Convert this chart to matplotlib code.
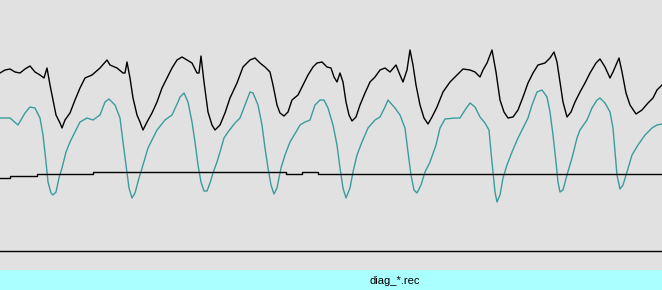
import numpy as np
import matplotlib.pyplot as plt

# channel 1 (black trace): sample index, level
ch1_t = [0, 5, 10, 15, 20, 25, 30, 35, 40, 44, 47, 50, 53, 56, 60, 62, 65, 70, 75, 80,
         85, 92, 100, 107, 110, 117, 123, 125, 127, 130, 133, 137, 140, 143, 147, 152,
         157, 162, 167, 172, 177, 182, 187, 192, 197, 199, 201, 204, 208, 212, 215, 220,
         225, 230, 237, 243, 250, 255, 260, 265, 270, 273, 277, 280, 284, 288, 292, 298,
         303, 308, 313, 317, 322, 327, 331, 334, 337, 340, 343, 346, 349, 352, 356, 360,
         365, 370, 375, 380, 385, 390, 396, 400, 403, 407, 410, 413, 416, 420, 424, 428,
         432, 437, 443, 450, 457, 463, 470, 475, 480, 483, 487, 492, 496, 500, 504, 508,
         513, 518, 523, 528, 533, 538, 545, 550, 554, 557, 560, 563, 567, 571, 575, 580,
         585, 590, 596, 600, 605, 610, 613, 619, 622, 626, 630, 636, 642, 648, 653, 657,
         662]
ch1_v = [73, 70, 69, 72, 73, 69, 66, 72, 75, 78, 68, 85, 100, 115, 123, 128, 120, 113, 100, 88,
         78, 75, 68, 60, 65, 68, 73, 73, 62, 78, 98, 115, 122, 130, 122, 113,
         102, 88, 78, 68, 60, 57, 60, 63, 73, 73, 56, 82, 112, 125, 130, 125,
         113, 98, 83, 67, 60, 58, 63, 67, 72, 85, 105, 113, 116, 112, 100, 95,
         85, 75, 67, 63, 62, 67, 68, 77, 82, 73, 82, 102, 115, 121, 117, 105,
         93, 82, 77, 70, 68, 72, 65, 75, 82, 70, 50, 65, 85, 105, 118, 124,
         117, 107, 92, 82, 75, 69, 70, 72, 77, 70, 63, 50, 72, 100, 112, 118,
         117, 110, 97, 83, 73, 65, 63, 58, 52, 62, 82, 102, 117, 112, 102, 92,
         83, 73, 63, 59, 67, 78, 72, 58, 72, 93, 105, 114, 110, 103, 98, 90,
         85]

# channel 2 (teal trace)
ch2_t = [0, 10, 18, 25, 30, 35, 40, 43, 46, 48, 51, 53, 56, 59, 62, 66, 70, 75, 80, 87,
         93, 100, 105, 109, 115, 120, 123, 126, 129, 132, 135, 139, 143, 148, 157, 165,
         172, 178, 180, 184, 188, 192, 195, 198, 201, 204, 207, 210, 213, 217, 220, 224,
         228, 235, 240, 245, 250, 253, 258, 262, 265, 268, 271, 274, 277, 281, 285, 290,
         296, 300, 305, 310, 315, 320, 324, 328, 333, 337, 340, 343, 346, 350, 353, 357,
         362, 368, 375, 380, 385, 388, 395, 400, 405, 408, 411, 414, 417, 421, 425, 430,
         436, 440, 445, 455, 460, 465, 470, 475, 480, 485, 489, 491, 493, 495, 497, 500,
         503, 507, 512, 518, 523, 528, 532, 537, 542, 547, 550, 553, 556, 558, 560, 563,
         567, 572, 577, 580, 587, 592, 597, 600, 605, 610, 613, 615, 617, 620, 623, 627,
         632, 638, 645, 652, 657, 662]
ch2_v = [118, 118, 125, 113, 107, 108, 118, 135, 162, 182, 193, 195, 192, 178, 168, 152, 142, 132, 122, 118,
         120, 115, 102, 99, 105, 118, 142, 165, 188, 198, 193, 178, 165, 148, 130, 120,
         115, 102, 97, 93, 102, 122, 142, 165, 182, 191, 191, 183, 173, 162, 152, 138,
         132, 123, 118, 105, 92, 93, 105, 125, 148, 168, 185, 194, 188, 168, 155, 142,
         132, 125, 122, 120, 105, 100, 100, 108, 125, 145, 168, 188, 198, 188, 172, 155,
         142, 128, 120, 117, 107, 100, 108, 115, 128, 152, 175, 190, 193, 185, 172, 162,
         145, 128, 119, 118, 118, 110, 103, 107, 117, 123, 130, 152, 172, 192, 202, 195,
         178, 165, 152, 138, 128, 118, 105, 92, 90, 97, 112, 135, 162, 182, 192, 190,
         175, 158, 138, 130, 120, 108, 100, 98, 103, 112, 128, 152, 175, 189, 185, 172,
         155, 145, 135, 128, 125, 124]

# channel 3 (slow step trace)
ch3_t = [0, 10, 10, 37, 37, 93, 93, 286, 286, 302, 302, 318, 318, 662]
ch3_v = [178, 178, 176, 176, 174, 174, 172, 172, 174, 174, 172, 172, 174, 174]

# channel 4 (flat baseline)
ch4_t = [0, 662]
ch4_v = [251, 251]

status_text = 'diag_*.rec'

fig = plt.figure(figsize=(6.62, 2.90), dpi=100)
fig.patch.set_facecolor('#e1e1e1')

ax = fig.add_axes([0, 20/290, 1, 270/290])
ax.set_facecolor('#e1e1e1')
ax.plot(ch1_t, ch1_v, color='black', lw=1.0)
ax.plot(ch2_t, ch2_v, color='#3a9c9c', lw=1.0)
ax.plot(ch3_t, ch3_v, color='black', lw=1.0)
ax.plot(ch4_t, ch4_v, color='black', lw=1.0)
ax.set_xlim(0, 662)
ax.set_ylim(270, 0)
ax.axis('off')

bar = fig.add_axes([0, 0, 1, 20/290])
bar.set_facecolor('#aaffff')
bar.set_xticks([])
bar.set_yticks([])
for s in bar.spines.values():
    s.set_visible(False)
bar.text(395/662, 0.45, status_text, ha='center', va='center',
         fontsize=8, family='Liberation Sans', color='black')

fig.savefig('out.png', dpi=100, facecolor=fig.get_facecolor())
